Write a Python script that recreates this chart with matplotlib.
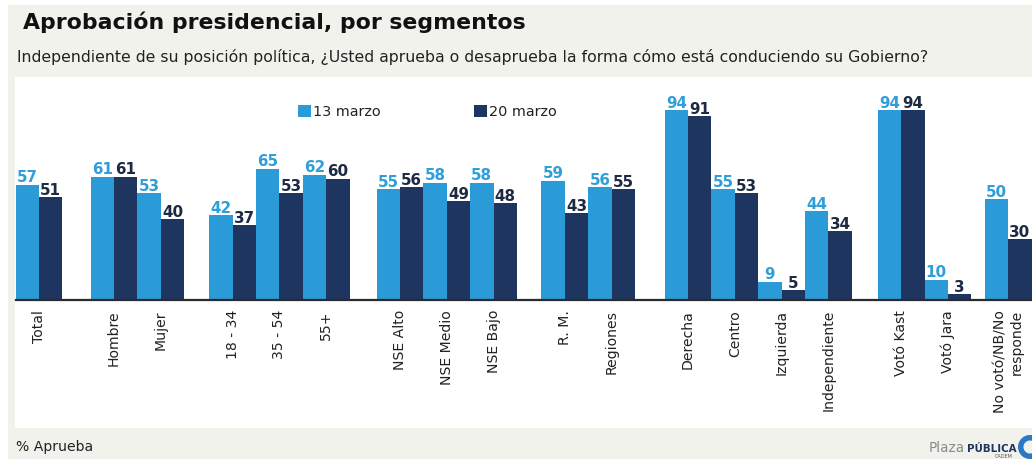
import numpy as np
import matplotlib
matplotlib.use("Agg")
import matplotlib.pyplot as plt
from matplotlib.patches import Rectangle, Wedge
from matplotlib.transforms import IdentityTransform

# ---------------- data ----------------
categories = ["Total", "Hombre", "Mujer", "18 - 34", "35 - 54", "55+",
              "NSE Alto", "NSE Medio", "NSE Bajo", "R. M.", "Regiones",
              "Derecha", "Centro", "Izquierda", "Independiente",
              "Votó Kast", "Votó Jara", "No votó/NB/No\nresponde"]
marzo13 = [57, 61, 53, 42, 65, 62, 55, 58, 58, 59, 56, 94, 55, 9, 44, 94, 10, 50]
marzo20 = [51, 61, 40, 37, 53, 60, 56, 49, 48, 43, 55, 91, 53, 5, 34, 94, 3, 30]
series_labels = ["13 marzo", "20 marzo"]
group_sizes = [1, 2, 3, 3, 2, 4, 2, 1]

title = "Aprobación presidencial, por segmentos"
subtitle = ("Independiente de su posición política, ¿Usted aprueba o desaprueba "
            "la forma cómo está conduciendo su Gobierno?")
footnote = "% Aprueba"

# ---------------- layout / style ----------------
group_gaps = [0, 1.2, 1.07, 1.15, 1.05, 1.26, 1.11, 0.58]
LIGHT = "#2B9BD8"
DARK = "#1E3560"
LIGHT_TXT = "#2F9ED9"
DARK_TXT = "#1E2A44"
BG = "#f2f2ed"

W, H = 1032, 459
def fx(px):
    return px / W
def fy(py):
    return 1 - py / H

lefts = []
x = 0.0
for n, gap in zip(group_sizes, group_gaps):
    x += gap
    for _ in range(n):
        lefts.append(x)
        x += 2
total_width = x
lefts = np.array(lefts)
centers = lefts + 1

fig = plt.figure(figsize=(W / 100, H / 100), dpi=100, facecolor="white")
# background panels
fig.patches.append(Rectangle((fx(8), 0), 1 - fx(8), fy(5), transform=fig.transFigure,
                             facecolor=BG, edgecolor="none", zorder=-10))
fig.patches.append(Rectangle((fx(15), fy(428)), 1 - fx(15), (428 - 77) / H,
                             transform=fig.transFigure, facecolor="white",
                             edgecolor="none", zorder=-9))

ax_left, ax_right = 15.7, 1031.7
ax = fig.add_axes([fx(ax_left), fy(300), (ax_right - ax_left) / W, 200 / H])
ax.set_facecolor("none")
ax.set_xlim(0, total_width)
ax.set_ylim(0, 200 / 2.02)

b1 = ax.bar(lefts, marzo13, width=1, align="edge", color=LIGHT, label=series_labels[0])
b2 = ax.bar(lefts + 1, marzo20, width=1, align="edge", color=DARK, label=series_labels[1])

for xs, vals, col in ((lefts + 0.5, marzo13, LIGHT_TXT), (lefts + 1.5, marzo20, DARK_TXT)):
    for xi, v in zip(xs, vals):
        ax.annotate(str(v), (xi, v), xytext=(0, 1.7), textcoords="offset points",
                    ha="center", va="baseline", fontsize=10.9, fontweight="bold",
                    color=col)

for s in ("left", "right", "top"):
    ax.spines[s].set_visible(False)
ax.spines["bottom"].set_linewidth(1.6)
ax.spines["bottom"].set_color("#2b2b2b")
ax.set_yticks([])
ax.set_xticks(centers)
ax.set_xticklabels(categories, rotation=90, fontsize=10.1, color="#222222",
                   va="top", ha="center")
for lab in ax.get_xticklabels():
    lab.set_multialignment("right")
ax.tick_params(axis="x", length=0, pad=7.2)

leg = ax.legend(handles=[b1, b2], labels=series_labels, loc="center left",
                bbox_to_anchor=(fx(298), fy(112)), bbox_transform=fig.transFigure,
                ncol=2, frameon=False, fontsize=10.4, handlelength=0.87,
                handleheight=0.87, handletextpad=0.15, columnspacing=6.5,
                borderpad=0, borderaxespad=0)
for t in leg.get_texts():
    t.set_color("#222222")

# titles
fig.text(fx(22.7), fy(29), title, fontsize=15.8, fontweight="bold",
         color="#111111", ha="left", va="baseline")
fig.text(fx(17.3), fy(62), subtitle, fontsize=11.3, color="#222222",
         ha="left", va="baseline")
fig.text(fx(16), fy(451), footnote, fontsize=10.1, color="#222222",
         ha="left", va="baseline")

# logo
fig.text(fx(929), fy(452), "Plaza", fontsize=9.8, color="#8a8a8a",
         ha="left", va="baseline")
fig.text(fx(967), fy(452), "PÚBLICA", fontsize=7.4, fontweight="bold",
         color="#1E3560", ha="left", va="baseline")
fig.text(fx(1013), fy(458), "CADEM", fontsize=3.5, color="#555555",
         ha="right", va="baseline")
fig.patches.append(Wedge((1030, H - 447), 12, 40, 320, width=5.5,
                         transform=IdentityTransform(), facecolor="#2B77C8",
                         edgecolor="none", zorder=5))

fig.savefig("out.png", dpi=100, facecolor=fig.get_facecolor())
